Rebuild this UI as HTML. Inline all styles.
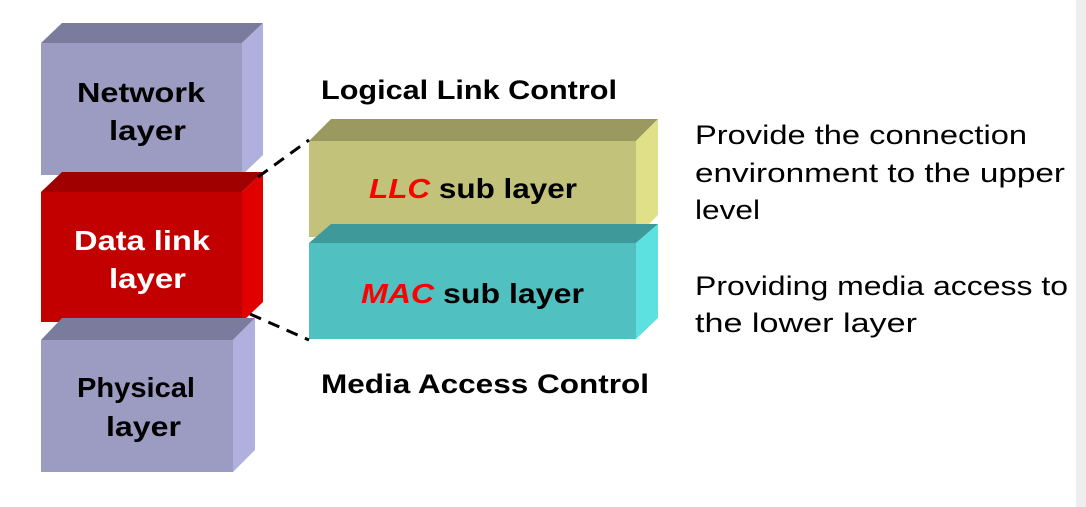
<!DOCTYPE html>
<html><head><meta charset="utf-8"><style>
body{margin:0;background:#fff;}
svg{display:block;font-family:"Liberation Sans",sans-serif;}
</style></head><body>
<svg width="1086" height="507" viewBox="0 0 1086 507">
<rect x="1076" y="0" width="10" height="507" fill="#eeeeee"/>
<polygon points="41,43 62,23 263,23 242,43" fill="#7b7b9e"/>
<polygon points="242,43 263,23 263,155 242,175" fill="#b0b0de"/>
<rect x="41" y="43" width="201" height="132" fill="#9c9cc2"/>
<polygon points="41,192 62,172 263,172 242,192" fill="#a00000"/>
<polygon points="242,192 263,172 263,302 242,322" fill="#e00000"/>
<rect x="41" y="192" width="201" height="130" fill="#c20000"/>
<polygon points="41,340 62,318 255,318 233,340" fill="#7b7b9e"/>
<polygon points="233,340 255,318 255,450 233,472" fill="#b0b0de"/>
<rect x="41" y="340" width="192" height="132" fill="#9c9cc2"/>
<polygon points="309,141 331,119 658,119 636,141" fill="#9a9a60"/>
<polygon points="636,141 658,119 658,215 636,237" fill="#e0e088"/>
<rect x="309" y="141" width="327" height="96" fill="#c2c27a"/>
<polygon points="309,243 331,224 658,224 636,243" fill="#3e9a9a"/>
<polygon points="636,243 658,224 658,318 636,339" fill="#5ce0e0"/>
<rect x="309" y="243" width="327" height="96" fill="#50c0c0"/>
<line x1="258" y1="177" x2="309" y2="140" stroke="#000" stroke-width="3" stroke-dasharray="12,8"/>
<line x1="250" y1="314" x2="309" y2="340" stroke="#000" stroke-width="3" stroke-dasharray="12,8"/>
<g font-weight="bold" font-size="28" lengthAdjust="spacingAndGlyphs">
<text x="77" y="102" textLength="128" lengthAdjust="spacingAndGlyphs">Network</text>
<text x="109" y="140" textLength="77" lengthAdjust="spacingAndGlyphs">layer</text>
<text x="74" y="250" textLength="136" lengthAdjust="spacingAndGlyphs" fill="#fff">Data link</text>
<text x="109" y="288" textLength="77" lengthAdjust="spacingAndGlyphs" fill="#fff">layer</text>
<text x="77" y="397" textLength="118" lengthAdjust="spacingAndGlyphs">Physical</text>
<text x="106" y="436" textLength="75" lengthAdjust="spacingAndGlyphs">layer</text>
<text x="369" y="198" textLength="208" lengthAdjust="spacingAndGlyphs"><tspan fill="#f00" font-style="italic">LLC</tspan> sub layer</text>
<text x="361" y="303" textLength="223" lengthAdjust="spacingAndGlyphs"><tspan fill="#f00" font-style="italic">MAC</tspan> sub layer</text>
<text x="321" y="99" font-size="27" textLength="296" lengthAdjust="spacingAndGlyphs">Logical Link Control</text>
<text x="321" y="393" font-size="27" textLength="328" lengthAdjust="spacingAndGlyphs">Media Access Control</text>
</g>
<g font-size="27">
<text x="695" y="144" textLength="332" lengthAdjust="spacingAndGlyphs">Provide the connection</text>
<text x="695" y="182" textLength="370" lengthAdjust="spacingAndGlyphs">environment to the upper</text>
<text x="695" y="219" textLength="65" lengthAdjust="spacingAndGlyphs">level</text>
<text x="695" y="295" textLength="373" lengthAdjust="spacingAndGlyphs">Providing media access to</text>
<text x="695" y="332" textLength="222" lengthAdjust="spacingAndGlyphs">the lower layer</text>
</g>
</svg>
</body></html>
